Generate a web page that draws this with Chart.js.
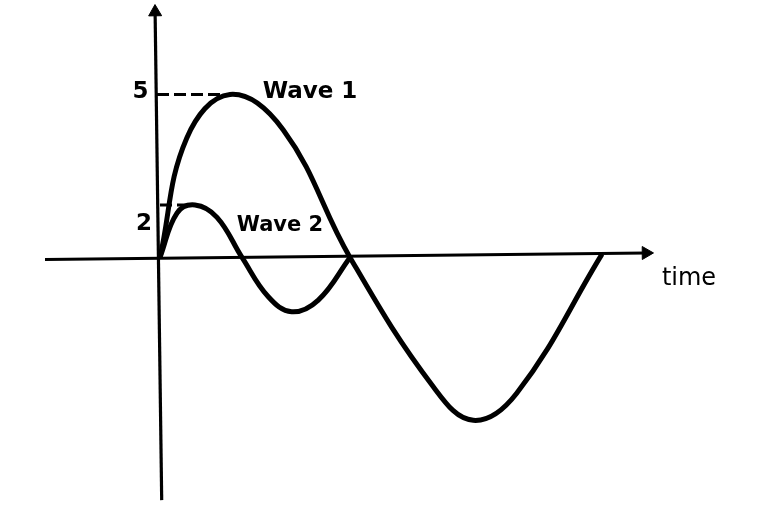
<!DOCTYPE html>
<html>
<head>
<meta charset="utf-8">
<script src="https://cdn.jsdelivr.net/npm/chart.js@4/dist/chart.umd.min.js"></script>
<style>
  html, body { margin: 0; padding: 0; background: #ffffff; }
  #wrap { width: 768px; height: 505px; position: relative; }
</style>
</head>
<body>
<div id="wrap"><canvas id="c"></canvas></div>
<script>
// ---- data (time units, amplitude units) ----
const wave1Time  = [0, 2.67, 7.0, 12.33, 19.0, 27.33, 31.33, 35.67, 44.2];
const wave1Value = [0, 3.66, 5.0, 3.91, 0, -3.97, -5.0, -4.17, 0.1];

const wave2Time  = [0, 1.7, 3.5, 5.7, 8.2, 10.83, 13.17, 15.83, 19.0];
const wave2Value = [0, 1.36, 1.61, 1.23, 0, -1.21, -1.67, -1.31, 0];

// marked levels (amplitude) and where their guide lines end (time)
const levelValues = [5, 1.61];
const levelLabels = ['5', '2'];
const levelEnds   = [7.3, 3.5];

const seriesNames = ['Wave 1', 'Wave 2'];
const axisTitle   = 'time';

// axis extents (time, amplitude)
const xAxisTime  = [-11.5, 48.6];
const xAxisValue = [-0.065, 0.135];
const yAxisTime  = [0.17, -0.49];
const yAxisValue = [-7.45, 7.53];

const pts = (xs, ys) => xs.map((x, i) => ({ x: x, y: ys[i] }));

const labelPlugin = {
  id: 'labels',
  afterDatasetsDraw(chart) {
    const ctx = chart.ctx;
    const xs = chart.scales.x, ys = chart.scales.y;
    const items = [
      { text: levelLabels[0], t: -1.95, v: 5.0,  font: 'bold 23px "DejaVu Sans"', dy: 4 },
      { text: levelLabels[1], t: -1.6,  v: 1.61, font: 'bold 23px "DejaVu Sans"', dy: 25 },
      { text: seriesNames[0], t: 15.0,  v: 5.0,  font: 'bold 23px "DejaVu Sans"', dy: 4 },
      { text: seriesNames[1], t: 12.0,  v: 1.61, font: 'bold 21px "DejaVu Sans"', dy: 26 },
      { text: axisTitle,      t: 52.9,  v: 0,    font: '24px "DejaVu Sans"',      dy: 28 }
    ];
    ctx.save();
    ctx.fillStyle = '#000000';
    ctx.textBaseline = 'alphabetic';
    ctx.textAlign = 'center';
    items.forEach(it => {
      ctx.font = it.font;
      ctx.fillText(it.text, xs.getPixelForValue(it.t), ys.getPixelForValue(it.v) + it.dy);
    });
    ctx.restore();
  }
};

const lineBase = { showLine: true, pointRadius: 0, borderColor: '#000000', backgroundColor: '#000000', fill: false };

new Chart(document.getElementById('c'), {
  type: 'scatter',
  data: {
    datasets: [
      Object.assign({}, lineBase, {
        label: 'x-axis', data: pts(xAxisTime, xAxisValue), borderWidth: 3.2, tension: 0,
        pointRadius: [0, 7.5], pointStyle: 'triangle', pointRotation: [0, 89.7],
        pointBackgroundColor: '#000000', pointBorderColor: '#000000', pointBorderWidth: 1
      }),
      Object.assign({}, lineBase, {
        label: 'y-axis', data: pts(yAxisTime, yAxisValue), borderWidth: 3.2, tension: 0,
        pointRadius: [0, 7.5], pointStyle: 'triangle', pointRotation: [0, -0.8],
        pointBackgroundColor: '#000000', pointBorderColor: '#000000', pointBorderWidth: 1
      }),
      Object.assign({}, lineBase, {
        label: 'level 5', data: [{ x: -0.3, y: levelValues[0] }, { x: levelEnds[0], y: levelValues[0] }],
        borderWidth: 3, borderDash: [12, 5], tension: 0
      }),
      Object.assign({}, lineBase, {
        label: 'level 2', data: [{ x: 0, y: levelValues[1] }, { x: levelEnds[1], y: levelValues[1] }],
        borderWidth: 3, borderDash: [12, 5], tension: 0
      }),
      Object.assign({}, lineBase, {
        label: seriesNames[0], data: pts(wave1Time, wave1Value), borderWidth: 5,
        tension: 0.4, borderJoinStyle: 'round'
      }),
      Object.assign({}, lineBase, {
        label: seriesNames[1], data: pts(wave2Time, wave2Value), borderWidth: 5,
        tension: 0.4, borderJoinStyle: 'round'
      })
    ]
  },
  options: {
    responsive: true,
    maintainAspectRatio: false,
    animation: false,
    events: [],
    layout: { padding: 0, autoPadding: false },
    plugins: { legend: { display: false }, tooltip: { enabled: false } },
    scales: {
      x: { type: 'linear', min: -16, max: 60.8, display: false },
      y: { type: 'linear', min: -7.6, max: 7.9, display: false }
    }
  },
  plugins: [labelPlugin]
});
</script>
</body>
</html>
